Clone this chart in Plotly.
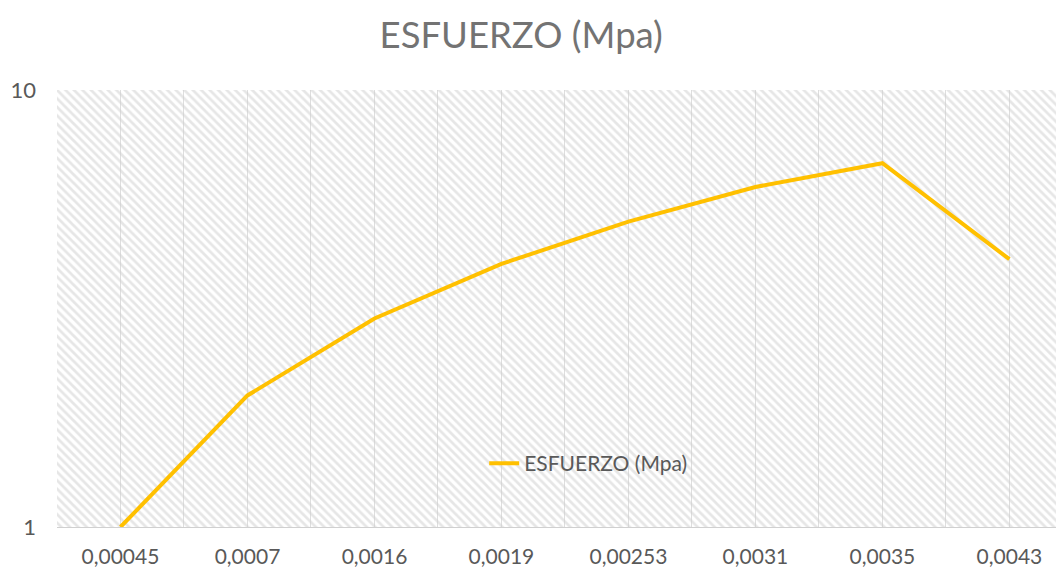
import plotly.graph_objects as go

# Datos
deformacion = ["0,00045", "0,0007", "0,0016", "0,0019", "0,00253", "0,0031", "0,0035", "0,0043"]
esfuerzo = [1, 2, 3, 4, 5, 6, 6.8, 4.1]
nombre_serie = "ESFUERZO (Mpa)"
titulo = "ESFUERZO (Mpa)"

idx = list(range(len(deformacion)))
gris_texto = "#595959"
fuente = "Lato"

fig = go.Figure()

# fondo rayado del area de trazado (ejes base ocultos 0-1), transparente entre rayas
fig.add_trace(go.Scatter(
    x=[0, 1, 1, 0, 0], y=[0, 0, 1, 1, 0],
    xaxis="x", yaxis="y",
    mode="none", fill="toself", fillcolor="rgba(0,0,0,0)",
    fillpattern=dict(shape="\\", fgcolor="#cdcdcd", bgcolor="rgba(0,0,0,0)", size=6, solidity=0.45),
    showlegend=False, hoverinfo="skip",
))

# serie principal sobre ejes superpuestos
fig.add_trace(go.Scatter(
    x=idx, y=esfuerzo, name=nombre_serie,
    xaxis="x2", yaxis="y2",
    mode="lines", line=dict(color="#FFC000", width=4),
))

# la pagina tiene 8px de margen en el body -> se compensa en tamaño y margenes
fig.update_layout(
    width=1056, height=561,
    margin=dict(l=49, r=0, t=82, b=42),
    paper_bgcolor="white", plot_bgcolor="white",
    font=dict(family=fuente, color=gris_texto, size=21),
    title=dict(text=titulo, x=0.486, xref="container", xanchor="center", y=0.952, yanchor="middle",
               font=dict(size=36.5, color="#737373", family=fuente)),
    legend=dict(x=0.528, y=0.145, xanchor="center", yanchor="middle",
                bgcolor="rgba(0,0,0,0)", font=dict(size=21, color=gris_texto)),
    xaxis=dict(range=[0, 1], visible=False, fixedrange=True),
    yaxis=dict(range=[0, 1], visible=False, fixedrange=True),
    xaxis2=dict(
        overlaying="x", anchor="y2",
        range=[-0.5, 7.43], tickvals=idx, ticktext=deformacion,
        showgrid=True, gridcolor="#dedede", gridwidth=1,
        minor=dict(dtick=1, tick0=-0.5, showgrid=True, gridcolor="#dedede", gridwidth=1),
        showline=True, linecolor="#d0d0d0", linewidth=1,
        zeroline=False, ticks="", ticklabelstandoff=11, automargin=False,
        tickfont=dict(size=21, color=gris_texto),
    ),
    yaxis2=dict(
        overlaying="y", anchor="x2",
        type="log", range=[0, 1], dtick=1,
        showgrid=True, gridcolor="#dedede", gridwidth=1,
        zeroline=False, ticks="", ticklabelstandoff=20, automargin=False,
        tickfont=dict(size=22, color=gris_texto),
    ),
)

fig.write_html("out.html")
